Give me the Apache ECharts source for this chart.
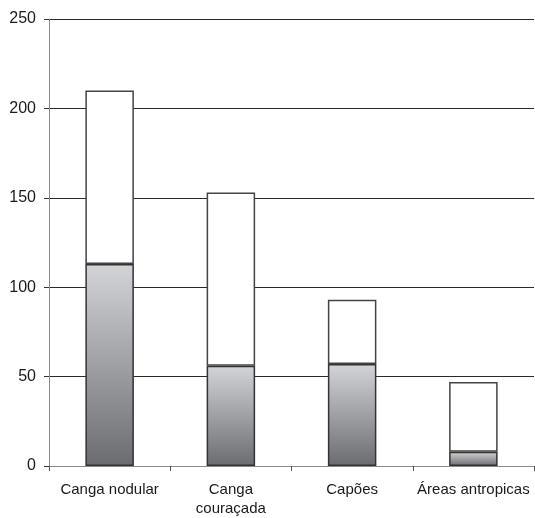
<!DOCTYPE html>
<html>
<head>
<meta charset="utf-8">
<script src="https://cdn.jsdelivr.net/npm/echarts@6/dist/echarts.min.js"></script>
<style>
  html, body { margin: 0; padding: 0; background: #fff; }
  #chart { width: 535px; height: 518px; }
</style>
</head>
<body>
<div id="chart"></div>
<script>
// Categories and stacked values
const categories = ['Canga nodular', 'Canga\ncouraçada', 'Capões', 'Áreas antropicas'];
const lowerValues = [113, 56, 57, 8];
const upperValues = [97, 97, 36, 39];
const yTicks = [0, 50, 100, 150, 200, 250];

const chart = echarts.init(document.getElementById('chart'));

const gradient = new echarts.graphic.LinearGradient(0, 0, 0, 1, [
  { offset: 0, color: '#d3d4d7' },
  { offset: 1, color: '#6b6c70' }
]);

chart.setOption({
  animation: false,
  backgroundColor: '#ffffff',
  grid: { left: 49, right: 1, top: 19, bottom: 50, containLabel: false },
  xAxis: {
    type: 'category',
    data: categories,
    boundaryGap: true,
    axisLine: { show: true, lineStyle: { color: '#8a8a8a', width: 1 } },
    axisTick: { show: true, length: 5, alignWithLabel: false, lineStyle: { color: '#555' } },
    axisLabel: {
      color: '#1a1a1a',
      fontFamily: 'Liberation Sans, Arial, sans-serif',
      fontSize: 15,
      margin: 14,
      lineHeight: 19,
      interval: 0
    },
    splitLine: { show: false }
  },
  yAxis: {
    type: 'value',
    min: yTicks[0],
    max: yTicks[yTicks.length - 1],
    interval: 50,
    axisLine: { show: true, lineStyle: { color: '#8a8a8a', width: 1 } },
    axisTick: { show: true, length: 5, inside: false, lineStyle: { color: '#333' } },
    axisLabel: {
      color: '#1a1a1a',
      fontFamily: 'Liberation Sans, Arial, sans-serif',
      fontSize: 16,
      margin: 13
    },
    splitLine: { show: true, lineStyle: { color: '#2a2a2a', width: 1 } }
  },
  series: [
    {
      type: 'bar',
      stack: 'total',
      data: lowerValues,
      barWidth: '40%',
      itemStyle: { color: gradient, borderColor: '#333', borderWidth: 1.5 }
    },
    {
      type: 'bar',
      stack: 'total',
      data: upperValues,
      barWidth: '40%',
      itemStyle: { color: '#ffffff', borderColor: '#444', borderWidth: 1.5 }
    }
  ]
});
</script>
</body>
</html>
